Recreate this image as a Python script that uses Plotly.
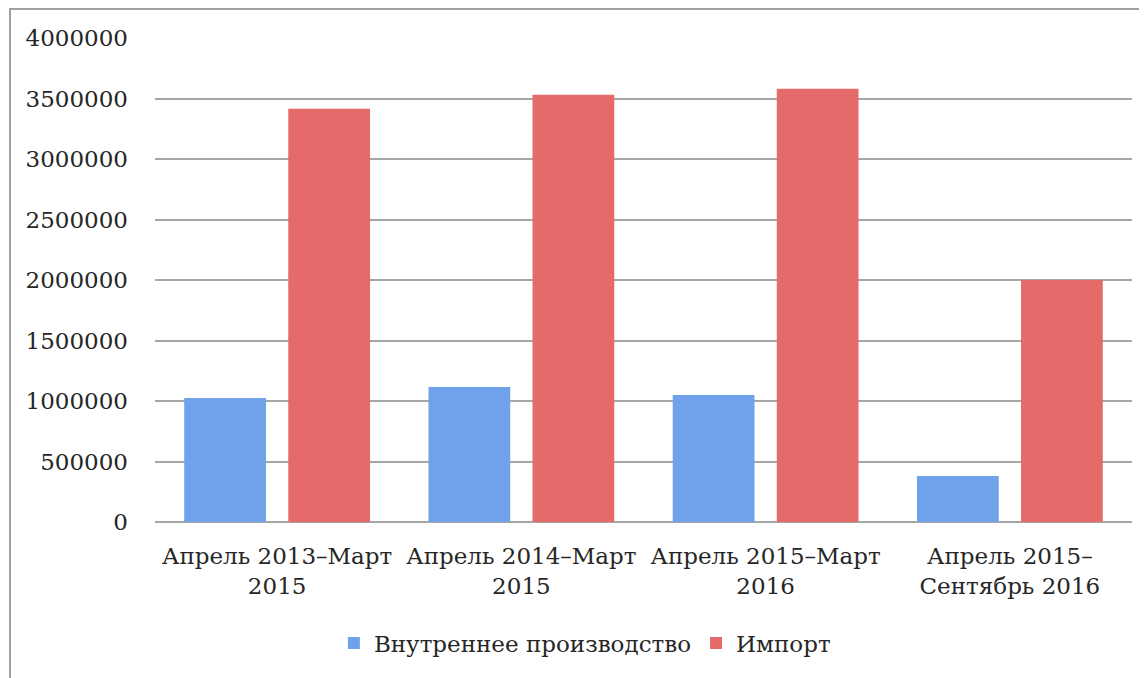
import plotly.graph_objects as go

categories = [
    "Апрель 2013–Март<br>2015",
    "Апрель 2014–Март<br>2015",
    "Апрель 2015–Март<br>2016",
    "Апрель 2015–<br>Сентябрь 2016",
]
domestic = [1025000, 1115000, 1050000, 380000]
imports = [3415000, 3530000, 3580000, 2000000]
series_names = ["Внутреннее производство", "Импорт"]
tick_vals = [0, 500000, 1000000, 1500000, 2000000, 2500000, 3000000, 3500000, 4000000]
tick_text = [str(v) for v in tick_vals]

FONT = "DejaVu Serif"
TXT = "#262626"

fig = go.Figure()
fig.add_trace(go.Bar(
    x=categories, y=domestic, name=series_names[0],
    marker=dict(color="#6fa2ea", line=dict(width=0)),
))
fig.add_trace(go.Bar(
    x=categories, y=imports, name=series_names[1],
    marker=dict(color="#e56b6b", line=dict(width=0)),
))

fig.update_layout(
    width=1139, height=670,
    margin=dict(l=147, r=15, t=30, b=156, autoexpand=False),
    paper_bgcolor="white", plot_bgcolor="white",
    barmode="group", bargap=0.148, bargroupgap=0.214,
    font=dict(family=FONT, size=22, color=TXT),
    showlegend=True,
    legend=dict(
        orientation="h", x=0.44, xanchor="center", y=-0.25, yanchor="middle",
        font=dict(family=FONT, size=23, color=TXT),
        itemwidth=30,
    ),
    xaxis=dict(
        showgrid=False, showline=False, ticks="",
        tickfont=dict(family=FONT, size=23, color=TXT),
        tickangle=0, automargin=False, ticklabelstandoff=18,
    ),
    yaxis=dict(
        range=[0, 4000000], tickvals=tick_vals, ticktext=tick_text,
        showgrid=True, gridcolor="#a6a6a6", gridwidth=2,
        zeroline=True, zerolinecolor="#a6a6a6", zerolinewidth=2,
        showline=False, ticks="",
        tickfont=dict(family=FONT, size=23, color=TXT),
        ticklabelstandoff=26, automargin=False,
    ),
    shapes=[dict(
        type="rect", xref="paper", yref="paper",
        x0=-0.1484, x1=1.04, y0=-0.35, y1=1.06,
        line=dict(color="#a0a0a0", width=2), fillcolor="rgba(0,0,0,0)",
        layer="below",
    )],
)

fig.write_html("out.html")
